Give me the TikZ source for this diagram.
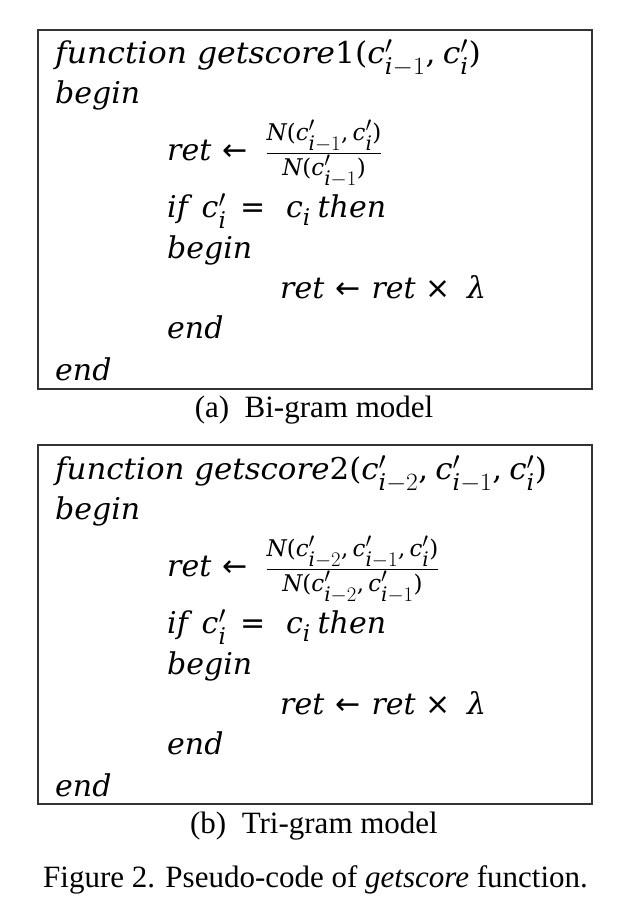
\documentclass[tikz,border=0pt]{standalone}
\usepackage{amsmath}
\usepackage{graphicx}
\usepackage[no-math]{fontspec}
\setmainfont{Liberation Serif}
\newfontfamily\cmf{DejaVu Serif}
\newfontfamily\dvs{DejaVu Sans}
\DeclareMathSizes{30}{30}{23}{20}
\newcommand\w[1]{\text{\cmf\itshape #1}}
\newcommand\up[1]{\text{\cmf #1}}
\newcommand\sy[1]{\text{\dvs #1}}
\newcommand\cp[1]{\w{c}'_{#1}}
\newcommand\ii{\w{i}}
\newcommand\la{\mathrel{\,\sy{←}\,}}
\newcommand\tm{\mathbin{\,\sy{×}\,}}
\newcommand\eq{\mathrel{\;\sy{=}\;}}
\begin{document}
\begin{tikzpicture}[x=1pt,y=-1pt,
  codebox/.style={draw=black!80,line width=1.3pt},
  code/.style={anchor=base west,inner sep=0pt,font=\fontsize{30}{34}\selectfont},
  capt/.style={anchor=base,inner sep=0pt,font=\fontsize{31}{36}\selectfont}]
\useasboundingbox[fill=white] (0,0) rectangle (624,922);
% ---- box (a)
\draw[codebox] (38,30) rectangle (592,389);
\node[code] (a1) at (55,63) {\scalebox{1.05}[1]{$\w{function getscore}\up{1(}\cp{\ii-1}\up{,}\;\cp{\ii}\up{)}$}};
\node[code] (a2) at (55,103) {$\w{begin}$};
\node[code] (a3) at (167,160) {$\w{ret}\la\;\frac{\w{N}\up{(}\cp{\ii-1}\up{,}\,\cp{\ii}\up{)}}{\w{N}\up{(}\cp{\ii-1}\up{)}}$};
\node[code] (a4) at (167,217) {$\w{if}\;\;\cp{\ii}\eq\;\w{c}_{\ii}\;\w{then}$};
\node[code] (a5) at (167,258) {$\w{begin}$};
\node[code] (a6) at (280,298) {$\w{ret}\la\w{ret}\tm\;\w{λ}$};
\node[code] (a7) at (167,338) {$\w{end}$};
\node[code] (a8) at (55,380) {$\w{end}$};
\node[capt] (ca) at (314,417) {(a)\ \ Bi-gram model};
% ---- box (b)
\draw[codebox] (38,445) rectangle (592,804);
\node[code] (b1) at (55,479) {\scalebox{1.03}[1]{$\w{function getscore}\up{2(}\cp{\ii-2}\up{,}\;\cp{\ii-1}\up{,}\;\cp{\ii}\up{)}$}};
\node[code] (b2) at (55,519) {$\w{begin}$};
\node[code] (b3) at (167,576) {$\w{ret}\la\;\frac{\w{N}\up{(}\cp{\ii-2}\up{,}\,\cp{\ii-1}\up{,}\,\cp{\ii}\up{)}}{\w{N}\up{(}\cp{\ii-2}\up{,}\,\cp{\ii-1}\up{)}}$};
\node[code] (b4) at (167,633) {$\w{if}\;\;\cp{\ii}\eq\;\w{c}_{\ii}\;\w{then}$};
\node[code] (b5) at (167,674) {$\w{begin}$};
\node[code] (b6) at (280,714) {$\w{ret}\la\w{ret}\tm\;\w{λ}$};
\node[code] (b7) at (167,754) {$\w{end}$};
\node[code] (b8) at (55,796) {$\w{end}$};
\node[capt] (cb) at (314,833) {(b)\ \ Tri-gram model};
% ---- figure caption
\node[capt,anchor=base west] (fig) at (43,887) {Figure 2. Pseudo-code of \textit{getscore} function.};
\end{tikzpicture}
\end{document}
